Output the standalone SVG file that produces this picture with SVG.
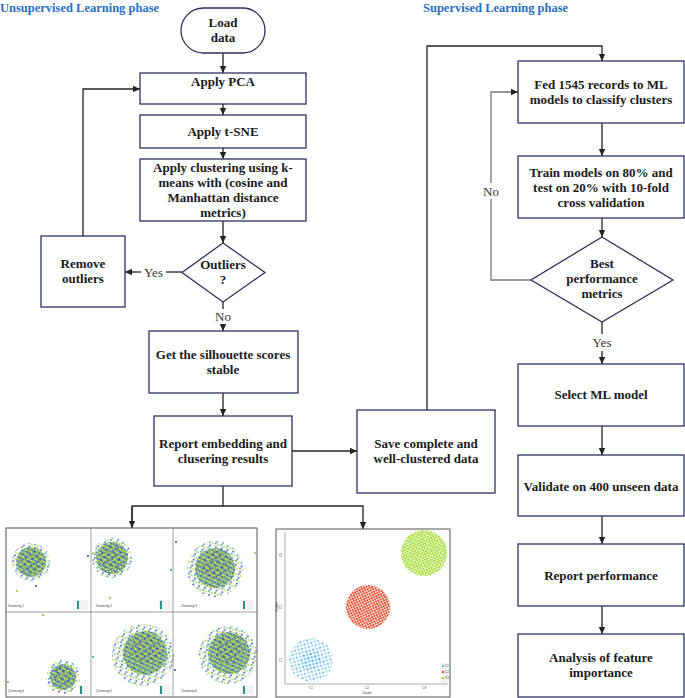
<svg xmlns="http://www.w3.org/2000/svg" width="685" height="698" viewBox="0 0 685 698">
<style>
.t{font-family:"Liberation Serif","Times New Roman",serif;font-weight:bold;font-size:13px;fill:#1a1a1a;text-anchor:middle}
.l{font-family:"Liberation Serif","Times New Roman",serif;font-size:13px;fill:#333;text-anchor:middle}
.h{font-family:"Liberation Serif","Times New Roman",serif;font-weight:bold;font-size:12.5px;fill:#1f6fc4}
.b{fill:#fff;stroke:#2e3160;stroke-width:1.3}
.c{fill:none;stroke:#222;stroke-width:1.3}
.g{fill:none;stroke:#777;stroke-width:1.3}
.tiny{font-family:"Liberation Sans",Arial,sans-serif;font-size:3px;fill:#333}
.p{fill:#fff;stroke:#555;stroke-width:1}
</style>
<defs>
<marker id="a" markerWidth="8" markerHeight="8" refX="7" refY="4" orient="auto" markerUnits="userSpaceOnUse">
<path d="M0,0.8 L7,4 L0,7.2 Z" fill="#222"/>
</marker>
<pattern id="pd" width="4" height="4" patternUnits="userSpaceOnUse" patternTransform="rotate(25)">
<circle cx="1" cy="1" r="0.95" fill="#2a44a8"/>
<circle cx="3" cy="1.2" r="0.95" fill="#2b9a8c"/>
<circle cx="1.3" cy="3" r="0.95" fill="#c2d41e"/>
<circle cx="3.1" cy="3.2" r="0.95" fill="#6aa83a"/>
</pattern>
<pattern id="pd2" width="5" height="5" patternUnits="userSpaceOnUse" patternTransform="rotate(-35)">
<circle cx="1.5" cy="1.5" r="0.9" fill="#2a3fa0"/>
<circle cx="3.8" cy="3.6" r="0.9" fill="#d0dc20"/>
</pattern>
<pattern id="ps" width="6" height="6" patternUnits="userSpaceOnUse" patternTransform="rotate(15)">
<circle cx="1" cy="1" r="0.9" fill="#2d9a8a"/>
<circle cx="4" cy="2" r="0.9" fill="#b8d02a"/>
<circle cx="2" cy="4.5" r="0.9" fill="#2a4aa8"/>
</pattern>
<pattern id="pg" width="3.5" height="3.5" patternUnits="userSpaceOnUse" patternTransform="rotate(20)">
<circle cx="1" cy="1" r="1.15" fill="#9ad82a"/>
<circle cx="2.7" cy="2.6" r="1.15" fill="#a8e034"/>
</pattern>
<pattern id="pr" width="3.5" height="3.5" patternUnits="userSpaceOnUse" patternTransform="rotate(20)">
<circle cx="1" cy="1" r="1.15" fill="#e2452a"/>
<circle cx="2.7" cy="2.6" r="1.15" fill="#ea5a3a"/>
</pattern>
<pattern id="pb" width="5" height="5" patternUnits="userSpaceOnUse" patternTransform="rotate(30)">
<circle cx="1" cy="1" r="1.1" fill="#5bb6ee"/>
<circle cx="3.5" cy="3.3" r="1.1" fill="#7cc4f0"/>
</pattern>
</defs>

<text class="h" x="0" y="12">Unsupervised Learning phase</text>
<text class="h" x="423" y="12">Supervised Learning phase</text>

<g id="connectors">
<line class="c" x1="223" y1="53" x2="223" y2="73" marker-end="url(#a)"/>
<line class="c" x1="223" y1="104" x2="223" y2="115" marker-end="url(#a)"/>
<line class="c" x1="223" y1="148" x2="223" y2="159" marker-end="url(#a)"/>
<line class="c" x1="223" y1="221" x2="223" y2="243" marker-end="url(#a)"/>
<line class="c" x1="182" y1="272" x2="166" y2="272"/>
<line class="c" x1="141" y1="272" x2="125" y2="272" marker-end="url(#a)"/>
<text class="l" x="153.5" y="276.5">Yes</text>
<path class="c" d="M83,236 V89 H140" marker-end="url(#a)"/>
<line class="c" x1="223" y1="302" x2="223" y2="309"/>
<text class="l" x="223" y="321">No</text>
<line class="c" x1="223" y1="324" x2="223" y2="331" marker-end="url(#a)"/>
<line class="c" x1="223" y1="393" x2="223" y2="416" marker-end="url(#a)"/>
<line class="c" x1="292" y1="451" x2="357" y2="451" marker-end="url(#a)"/>
<path class="c" d="M427,410 V46 H602 V61" marker-end="url(#a)"/>
<line class="c" x1="602" y1="123" x2="602" y2="156" marker-end="url(#a)"/>
<line class="c" x1="602" y1="218" x2="602" y2="237" marker-end="url(#a)"/>
<path class="g" d="M531,280 H491 V199"/>
<text class="l" x="491" y="195.5">No</text>
<path class="g" d="M491,183 V92 H518" marker-end="url(#a)"/>
<line class="c" x1="602" y1="322" x2="602" y2="334"/>
<text class="l" x="602" y="347">Yes</text>
<line class="c" x1="602" y1="351" x2="602" y2="364" marker-end="url(#a)"/>
<line class="c" x1="602" y1="426" x2="602" y2="455" marker-end="url(#a)"/>
<line class="c" x1="602" y1="516" x2="602" y2="544" marker-end="url(#a)"/>
<line class="c" x1="602" y1="606" x2="602" y2="634" marker-end="url(#a)"/>
<line class="c" x1="223" y1="486" x2="223" y2="506"/>
<path class="c" d="M132,528 V506 H363 V529" marker-end="url(#a)"/>
<line class="c" x1="132" y1="507" x2="132" y2="528" marker-end="url(#a)"/>
</g>

<g id="load-data">
<rect class="b" x="181" y="8" width="84" height="45" rx="22.5"/>
<text class="t" x="223" y="27">Load</text>
<text class="t" x="223" y="42">data</text>
</g>
<g id="apply-pca">
<rect class="b" x="140" y="73" width="166" height="31"/>
<text class="t" x="223" y="86">Apply PCA</text>
</g>
<g id="apply-tsne">
<rect class="b" x="140" y="115" width="166" height="33"/>
<text class="t" x="223" y="136">Apply t-SNE</text>
</g>
<g id="apply-clustering">
<rect class="b" x="140" y="159" width="166" height="62"/>
<text class="t" x="223" y="172">Apply clustering using k-</text>
<text class="t" x="223" y="187">means with (cosine and</text>
<text class="t" x="223" y="202">Manhattan distance</text>
<text class="t" x="223" y="217">metrics)</text>
</g>
<g id="outliers">
<polygon class="b" points="223,243 265,272.5 223,302 182,272.5"/>
<text class="t" x="223" y="269">Outliers</text>
<text class="t" x="223" y="284">?</text>
</g>
<g id="remove-outliers">
<rect class="b" x="41" y="236" width="84" height="71"/>
<text class="t" x="83" y="268">Remove</text>
<text class="t" x="83" y="283">outliers</text>
</g>
<g id="silhouette">
<rect class="b" x="149" y="331" width="149" height="62"/>
<text class="t" x="223" y="359">Get the silhouette scores</text>
<text class="t" x="223" y="374">stable</text>
</g>
<g id="report-embedding">
<rect class="b" x="154" y="416" width="138" height="70"/>
<text class="t" x="223" y="448">Report embedding and</text>
<text class="t" x="223" y="463">clusering results</text>
</g>
<g id="save-data">
<rect class="b" x="357" y="410" width="138" height="83"/>
<text class="t" x="426" y="448">Save complete and</text>
<text class="t" x="426" y="463">well-clustered data</text>
</g>
<g id="fed-records">
<rect class="b" x="518" y="61" width="166" height="62"/>
<text class="t" x="601" y="89">Fed 1545 records to ML</text>
<text class="t" x="601" y="104">models to classify clusters</text>
</g>
<g id="train-models">
<rect class="b" x="518" y="156" width="166" height="62"/>
<text class="t" x="601" y="177">Train models on 80% and</text>
<text class="t" x="601" y="192">test on 20% with 10-fold</text>
<text class="t" x="601" y="207">cross validation</text>
</g>
<g id="best-performance">
<polygon class="b" points="602,237 673,280 602,322 531,280"/>
<text class="t" x="602" y="268">Best</text>
<text class="t" x="602" y="283">performance</text>
<text class="t" x="602" y="298">metrics</text>
</g>
<g id="select-model">
<rect class="b" x="518" y="364" width="166" height="62"/>
<text class="t" x="601" y="399">Select ML model</text>
</g>
<g id="validate">
<rect class="b" x="518" y="455" width="166" height="61"/>
<text class="t" x="601" y="491">Validate on 400 unseen data</text>
</g>
<g id="report-performance">
<rect class="b" x="518" y="544" width="166" height="62"/>
<text class="t" x="601" y="580">Report performance</text>
</g>
<g id="feature-importance">
<rect class="b" x="518" y="634" width="166" height="63"/>
<text class="t" x="601" y="662">Analysis of feature</text>
<text class="t" x="601" y="677">importance</text>
</g>

<g id="clustering-grid">
<rect class="p" x="6" y="528" width="251" height="169"/>
<line x1="91" y1="528" x2="91" y2="697" stroke="#888" stroke-width="0.8"/>
<line x1="173" y1="528" x2="173" y2="697" stroke="#888" stroke-width="0.8"/>
<line x1="6" y1="612" x2="257" y2="612" stroke="#888" stroke-width="0.8"/>
<circle cx="31" cy="562" r="19" fill="url(#ps)"/><circle cx="31" cy="562" r="15" fill="url(#pd)"/><circle cx="31" cy="562" r="12" fill="url(#pd2)"/>
<circle cx="112" cy="558" r="20" fill="url(#ps)"/><circle cx="112" cy="558" r="16" fill="url(#pd)"/><circle cx="112" cy="557" r="12" fill="url(#pd2)"/>
<circle cx="215" cy="569" r="28" fill="url(#ps)"/><circle cx="215" cy="568" r="20" fill="url(#pd)"/><circle cx="216" cy="565" r="14" fill="url(#pd2)"/>
<circle cx="63" cy="677" r="17" fill="url(#ps)"/><circle cx="63" cy="677" r="13" fill="url(#pd)"/><circle cx="63" cy="676" r="10" fill="url(#pd2)"/>
<circle cx="143" cy="655" r="31" fill="url(#ps)"/><circle cx="145" cy="653" r="22" fill="url(#pd)"/><circle cx="146" cy="650" r="15" fill="url(#pd2)"/>
<circle cx="228" cy="655" r="29" fill="url(#ps)"/><circle cx="229" cy="653" r="21" fill="url(#pd)"/><circle cx="229" cy="650" r="14" fill="url(#pd2)"/>
<circle cx="17" cy="591" r="1" fill="#8bc32a"/><circle cx="36" cy="586" r="1" fill="#2a44a8"/><circle cx="88" cy="556" r="1" fill="#2a44a8"/>
<circle cx="93" cy="553" r="1" fill="#b5cc1e"/><circle cx="110" cy="598" r="1" fill="#8bc32a"/><circle cx="171" cy="570" r="1" fill="#2b9a8c"/>
<circle cx="176" cy="542" r="1" fill="#2a44a8"/><circle cx="255" cy="553" r="1" fill="#8bc32a"/><circle cx="43" cy="615" r="1" fill="#6ab04a"/>
<circle cx="8" cy="682" r="1" fill="#6ab04a"/><circle cx="93" cy="657" r="1" fill="#2b9a8c"/><circle cx="175" cy="670" r="1" fill="#2a44a8"/>
<text class="tiny" x="8" y="607">Clustering 1</text>
<text class="tiny" x="96" y="607">Clustering 2</text>
<text class="tiny" x="181" y="607">Clustering 3</text>
<text class="tiny" x="8" y="692">Clustering 4</text>
<text class="tiny" x="96" y="692">Clustering 5</text>
<text class="tiny" x="181" y="692">Clustering 6</text>
<g>
<rect x="76" y="600" width="12" height="10" fill="#f2f2f2"/><rect x="77" y="601" width="2" height="8" fill="#2a8f8a"/>
<rect x="159" y="600" width="12" height="10" fill="#f2f2f2"/><rect x="160" y="601" width="2" height="8" fill="#2a8f8a"/>
<rect x="242" y="600" width="12" height="10" fill="#f2f2f2"/><rect x="243" y="601" width="2" height="8" fill="#2a8f8a"/>
<rect x="79" y="685" width="10" height="10" fill="#f2f2f2"/><rect x="80" y="686" width="2" height="8" fill="#2a8f8a"/>
<rect x="159" y="685" width="12" height="10" fill="#f2f2f2"/><rect x="160" y="686" width="2" height="8" fill="#2a8f8a"/>
<rect x="242" y="685" width="12" height="10" fill="#f2f2f2"/><rect x="243" y="686" width="2" height="8" fill="#2a8f8a"/>
</g>
</g>

<g id="cluster-scatter">
<rect class="p" x="276" y="529" width="174" height="168" stroke="#444" stroke-width="1.2"/>
<line x1="285" y1="532" x2="285" y2="684" stroke="#999" stroke-width="0.8"/>
<line x1="285" y1="684" x2="448" y2="684" stroke="#999" stroke-width="0.8"/>
<circle cx="424" cy="553" r="23" fill="url(#pg)"/>
<circle cx="368" cy="607" r="22" fill="url(#pr)"/>
<circle cx="311" cy="660" r="22" fill="url(#pb)" opacity="0.9"/>
<circle cx="311" cy="660" r="10" fill="url(#pb)"/>
<text class="tiny" x="282" y="555" transform="rotate(-90 282 555)" text-anchor="middle">C3</text>
<text class="tiny" x="282" y="607" transform="rotate(-90 282 607)" text-anchor="middle">C2</text>
<text class="tiny" x="282" y="660" transform="rotate(-90 282 660)" text-anchor="middle">C1</text>
<text class="tiny" x="278" y="607" transform="rotate(-90 278 607)" text-anchor="middle">Cluster</text>
<text class="tiny" x="311" y="689" text-anchor="middle">C1</text>
<text class="tiny" x="367" y="689" text-anchor="middle">C2</text>
<text class="tiny" x="424" y="689" text-anchor="middle">C3</text>
<text class="tiny" x="367" y="694" text-anchor="middle">Cluster</text>
<rect x="441" y="663" width="7" height="20" fill="#f2f2f2"/>
<rect x="442" y="665" width="2" height="2" fill="#5bb6ee"/><text class="tiny" x="445" y="667">C1</text>
<rect x="442" y="671" width="2" height="2" fill="#e2452a"/><text class="tiny" x="445" y="673">C2</text>
<rect x="442" y="677" width="2" height="2" fill="#9ad82a"/><text class="tiny" x="445" y="679">C3</text>
</g>
</svg>
